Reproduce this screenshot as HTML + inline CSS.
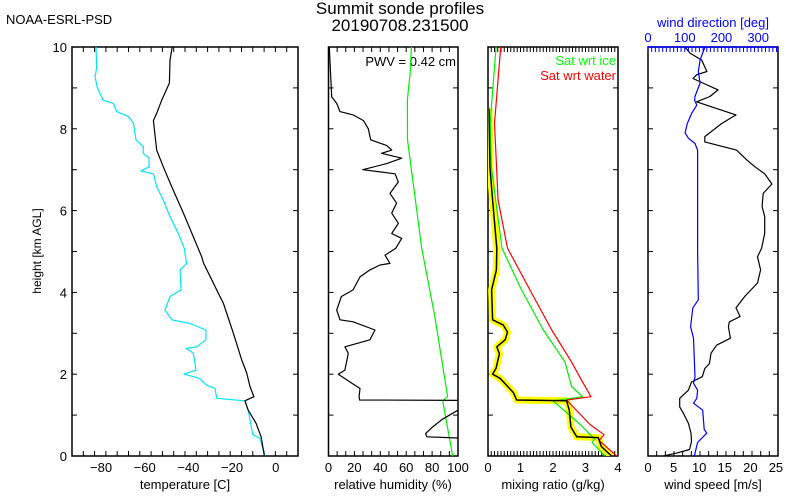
<!DOCTYPE html>
<html><head><meta charset="utf-8"><style>
body{margin:0;background:#fff;}
svg{display:block;font-family:"Liberation Sans",sans-serif;}
text{font-size:13px;}
</style></head><body>
<svg id="chart" width="800" height="500" viewBox="0 0 800 500">
<text x="6" y="24" style="font-size:13px">NOAA-ESRL-PSD</text>
<text x="400" y="14" text-anchor="middle" style="font-size:17px">Summit sonde profiles</text>
<text x="400" y="31" text-anchor="middle" style="font-size:17px">20190708.231500</text>
<text transform="translate(41,251) rotate(-90)" text-anchor="middle" style="font-size:12px">height [km AGL]</text>
<text x="185" y="489" text-anchor="middle">temperature [C]</text>
<text x="393" y="489" text-anchor="middle">relative humidity (%)</text>
<text x="553" y="489" text-anchor="middle">mixing ratio (g/kg)</text>
<text x="713" y="489" text-anchor="middle">wind speed [m/s]</text>
<text x="713" y="27" text-anchor="middle" fill="#0000ff">wind direction [deg]</text>
<text x="456" y="66" text-anchor="end">PWV = 0.42 cm</text>
<text x="616" y="65" text-anchor="end" fill="#00ff00">Sat wrt ice</text>
<text x="616" y="80" text-anchor="end" fill="#ff0000">Sat wrt water</text>
</svg>
<script>
// heights (km) and values per series
const tempH = [10,9.68,9.12,8.7,8.38,8.2,7.48,7.07,6.58,5.94,4.87,4.72,3.98,3.74,3.0,2.35,2.03,1.7,1.45,1.35,1.12,0.8,0.47,0];
const tempV = [-47.4,-48.4,-48.7,-52.2,-54.5,-56,-54.5,-51.5,-47.6,-42.3,-33.9,-33.1,-26.3,-24,-19.4,-15.6,-13.3,-11.8,-10,-14.1,-12.6,-9,-6.7,-5.2];
const dewH = [10,9.5,9.27,9.0,8.7,8.62,8.42,8.3,8.14,7.73,7.56,7.4,7.28,7.07,6.97,6.9,6.58,6.26,5.85,5.44,5.08,4.71,4.55,4.06,3.9,3.57,3.33,3.24,3.08,2.84,2.67,2.63,2.51,2.1,2.0,1.9,1.73,1.65,1.41,1.35,1.12,0.52,0.43,0];
const dewV = [-82.3,-82,-82.7,-81.7,-79,-74.4,-72.8,-67.5,-65.2,-64,-60.6,-60.7,-58,-58,-61.8,-56,-54.5,-51.5,-48.4,-44.6,-41.9,-40.8,-43.8,-43.4,-48.4,-50.7,-47.6,-39.2,-32,-32,-36.2,-41.1,-37.7,-36.5,-42,-35,-31.6,-27.8,-27,-14.1,-12.6,-10.5,-7.2,-4.9];
const rhH = [10,8.78,8.62,8.42,8.34,8.2,8.0,7.73,7.59,7.48,7.4,7.28,7.15,7.0,6.9,6.7,6.42,6.18,5.94,5.69,5.44,5.32,5.08,4.91,4.71,4.67,4.55,4.38,4.06,3.9,3.57,3.33,3.28,3.08,2.84,2.67,2.51,2.1,2.0,1.81,1.65,1.45,1.37,1.36,1.12,0.9,0.7,0.55,0.47,0.44,0.3,0];
const rhV = [0.6,2.5,6.3,8.9,19,27,30.7,32.6,45,48.8,41,56.5,45,26.4,51.4,53.9,47.5,52.6,48.8,54,48.8,56.5,52,43.6,47.5,39.8,32,24.3,19,10,6.3,8.9,19,35.9,32,12.7,15.3,12.7,7.6,16.6,24.3,23.6,24,110,100,88,80,75,76,100,110,115];
const rhiH = [10,9.33,8.96,8.7,7.73,5.08,3.4,1.45,1.35,0];
const rhiV = [64,63,61.7,60.9,61,72,82.2,92,88.2,95.9];
const mrH = [8.5,7.07,6.26,5.08,4.55,4.06,3.33,3.2,3.03,2.84,2.67,2.5,2.15,2.0,1.9,1.69,1.55,1.37,1.35,1.12,0.71,0.47,0.45,0.23,0];
const mrV = [0.03,0.06,0.14,0.27,0.26,0.11,0.14,0.47,0.6,0.53,0.27,0.35,0.25,0.14,0.37,0.62,0.78,0.88,2.42,2.5,2.55,2.73,3.39,3.49,3.8];
const iceH = [10,8.7,8.14,7.07,5.08,4.06,3.08,2.3,1.7,1.45,1.35,0.77,0.41,0.33,0];
const iceV = [0.25,0.12,0.07,0.1,0.43,1.03,1.7,2.37,2.57,2.91,2.0,2.84,3.28,3.2,3.6];
const watH = [10,8.7,8.14,6.26,5.08,4.06,3.08,2.3,1.85,1.45,1.37,0.77,0.52,0.38,0];
const watV = [0.39,0.26,0.2,0.31,0.6,1.29,1.96,2.57,2.88,3.17,2.42,3.14,3.57,3.42,3.96];
const spdH = [10,9.85,9.68,9.4,9.32,9.23,9.12,8.95,8.79,8.66,8.55,8.34,8.13,7.81,7.68,7.48,7.24,7.07,6.9,6.65,6.42,6.1,5.85,5.44,5.08,4.87,4.55,4.23,3.9,3.62,3.41,3.28,3.16,2.88,2.71,2.51,2.26,2.14,1.94,1.81,1.61,1.41,1.2,1.05,0.8,0.56,0.35,0.16,0.07,0];
const spdV = [7.2,8.2,10.5,11.5,9.5,8.8,10.7,13.7,12.1,9.5,12.1,17.2,14.4,11.1,11.1,17.3,19.3,20.9,22.8,24.2,22.5,22.3,22.8,22.8,22.2,21.4,22,21.4,18.9,17.2,18,15.9,15.7,16.1,13.4,12.3,12,11.1,10.6,8.5,7.9,6.2,6.2,6.9,7.9,8.4,8.5,8.1,5.6,3.0];
const dirH = [10,9.68,9.4,9.12,8.79,8.7,8.58,8.38,8.13,7.9,7.77,7.64,7.48,6.67,5.04,3.82,3.62,3.16,2.88,1.94,1.78,1.61,1.41,1.29,1.12,0.65,0.56,0.33,0];
const dirV = [155,142,137,142,128,127,133,119,107,101,110,128,135,135,135,137,122,116,124,128,124,135,133,124,149,153,160,135,126];
const tempTicks = [-80,-60,-40,-20,0];
const rhTicks = [0,20,40,60,80,100];
const mrTicks = [0,1,2,3,4];
const spdTicks = [0,5,10,15,20,25];
const dirTicks = [0,100,200,300];
const hTicks = [0,2,4,6,8,10];

const NS='http://www.w3.org/2000/svg';
const svg=document.getElementById('chart');
const Y0=456, Y1=47;
function yS(h){return Y0-(h/10)*(Y0-Y1);}
function lin(d0,d1,r0,r1){return v=>r0+(v-d0)/(d1-d0)*(r1-r0);}
function mk(tag,at,parent){const e=document.createElementNS(NS,tag);for(const k in at)e.setAttribute(k,at[k]);(parent||svg).appendChild(e);return e;}
const panels=[
 {name:'temperature',l:72,r:298,x:lin(-93.3,10.2,72,298),ticks:tempTicks,minorN:20},
 {name:'rh',l:328.5,r:458,x:lin(0,100,328.5,458),ticks:rhTicks,minorN:15},
 {name:'mixing-ratio',l:488,r:618,x:lin(0,4,488,618),ticks:mrTicks,minorN:40},
 {name:'wind',l:648,r:778,x:lin(0,25.4,648,778),ticks:spdTicks,minorN:15}
];
const dirX=lin(0,354,648,778);
panels.forEach((p,i)=>{
  const g=mk('g',{});
  
  
  const cp=mk('clipPath',{id:'clip'+i},g);
  mk('rect',{x:p.l,y:Y1,width:p.r-p.l,height:Y0-Y1},cp);
  const fr=mk('rect',{x:p.l,y:Y1,width:p.r-p.l,height:Y0-Y1,fill:'none',stroke:'#000','stroke-width':1.5},g);
  
  
  for(let k=0;k<=10;k++){const y=yS(k);
    mk('line',{x1:p.l,x2:p.l+5,y1:y,y2:y,stroke:'#000'},g);
    mk('line',{x1:p.r,x2:p.r-5,y1:y,y2:y,stroke:'#000'},g);}
  for(let k=0;k<=p.minorN;k++){const x=p.l+(p.r-p.l)*k/p.minorN;
    mk('line',{x1:x,x2:x,y1:Y0,y2:Y0-5,stroke:'#000'},g);
    if(i<3) mk('line',{x1:x,x2:x,y1:Y1,y2:Y1+5,stroke:'#000'},g);}
  p.ticks.forEach(t=>{const tx=mk('text',{x:p.x(t),y:472,'text-anchor':'middle'},g);tx.textContent=String(t).replace('-','\u2212');
    
    });
  p.g=g;
});
hTicks.forEach(h=>{const t=mk('text',{x:67,y:yS(h)+5,'text-anchor':'end'});t.textContent=h;
  
  });
for(let d=0;d<=350;d+=10){mk('line',{x1:dirX(d),x2:dirX(d),y1:Y1,y2:Y1+5,stroke:'#0000ff'});}
mk('line',{x1:648,x2:778,y1:Y1,y2:Y1,stroke:'#0000ff','stroke-width':1.5});
dirTicks.forEach(d=>{const t=mk('text',{x:dirX(d),y:42,'text-anchor':'middle',fill:'#0000ff'});t.textContent=d;
  
  });
function line(pi,H,V,xf,color,w,name){
  const pts=H.map((h,k)=>xf(V[k]).toFixed(1)+','+yS(h).toFixed(1)).join(' ');
  const e=mk('polyline',{points:pts,fill:'none',stroke:color,'stroke-width':w,'stroke-linejoin':'round','clip-path':'url(#clip'+pi+')'},panels[pi].g);
  
  
}
line(0,dewH,dewV,panels[0].x,'#00e5ff',1.2,'dewpoint-line');
line(0,tempH,tempV,panels[0].x,'#000',1.2,'temperature-line');
line(1,rhiH,rhiV,panels[1].x,'#00ee00',1.2,'rh-ice-line');
line(1,rhH,rhV,panels[1].x,'#000',1.2,'rh-line');
line(2,mrH,mrV,panels[2].x,'#ffff00',7,'mixing-ratio-uncertainty');
line(2,iceH,iceV,panels[2].x,'#00ee00',1.2,'sat-ice-line');
line(2,watH,watV,panels[2].x,'#ff0000',1.2,'sat-water-line');
line(2,mrH,mrV,panels[2].x,'#000',1.5,'mixing-ratio-line');
line(3,spdH,spdV,panels[3].x,'#000',1.2,'wind-speed-line');
line(3,dirH,dirV,dirX,'#0000ff',1.2,'wind-direction-line');
</script>
</body></html>
